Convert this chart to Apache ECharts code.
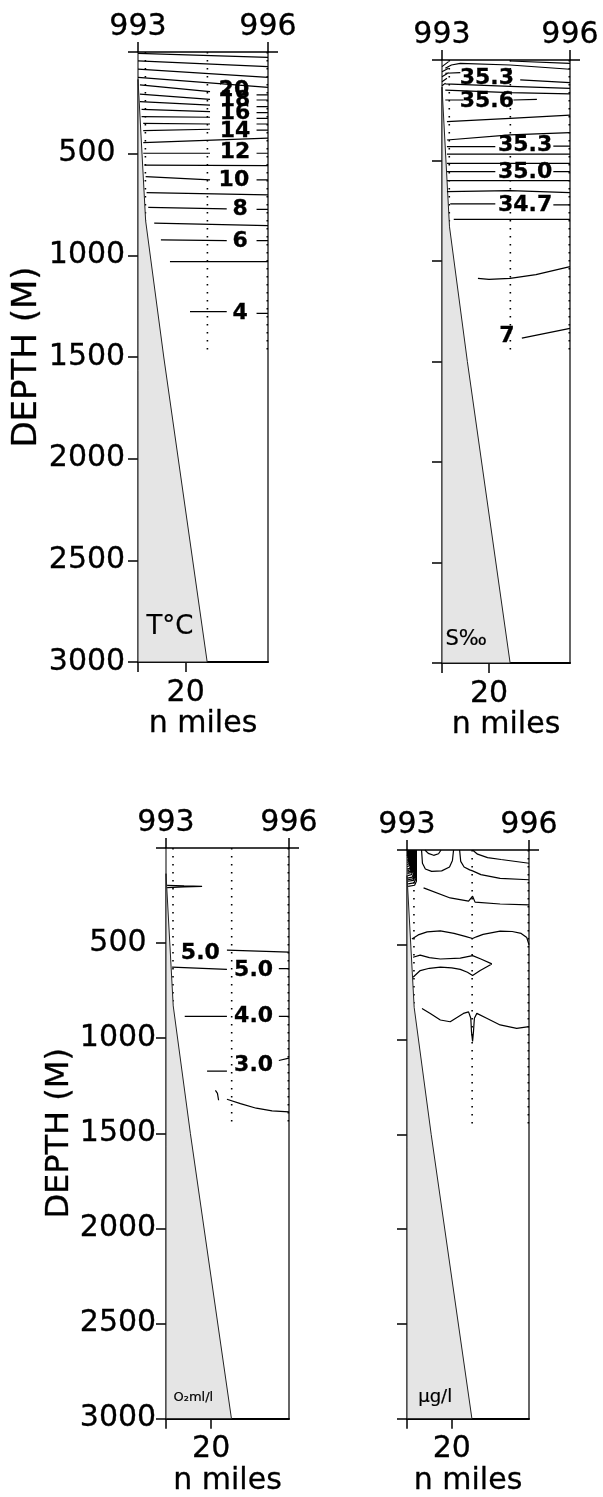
<!DOCTYPE html>
<html><head><meta charset="utf-8">
<script src="https://cdn.jsdelivr.net/npm/echarts/dist/echarts.min.js"></script>
<style>html,body{margin:0;padding:0;background:#fff}#c{width:603px;height:1497px}</style>
</head><body><div id="c"></div>
<script>
// ---------- data ----------
const stationLabels = ['993', '996'];
const distanceLabels = [20];
const panelUnits = ['T°C', 'S‰', 'O₂ml/l', 'μg/l'];
const stationX = [3.1, 29.1, 54.2];          // n miles
const stationBottom = [830, 1470, 1470];      // depth of each cast (m)
const bathymetry = [[0,135],[3.2,830],[10.8,1500],[29,3000],[0,3000]];

// Temperature contours (n miles, depth m) - segments
const tempContours = [
 [[0,7],[54.5,26]],
 [[0,44],[54.5,72]],
 [[0,84],[54.5,125]],
 [[0,125],[54.5,174]],
 [[0.8,162],[30.2,195]], [[49.7,211],[54.5,211]],
 [[0.8,207],[30.2,233]], [[49.7,236],[54.5,236]],
 [[0.8,244],[30.2,261]], [[49.7,269],[54.5,269]],
 [[1.5,282],[30.2,293]], [[49.7,298],[54.5,298]],
 [[1.5,318],[30.2,321]], [[49.7,326],[54.5,326]],
 [[2.2,351],[30.2,354]], [[49.7,354],[54.5,354]],
 [[2.2,387],[30.2,380]], [[49.7,384],[54.5,384]],
 [[2.2,446],[54.5,424]],
 [[2.2,498],[30.2,498]], [[49.7,498],[54.5,498]],
 [[2.7,556],[54.5,559]],
 [[3.2,613],[30.2,629]], [[49.7,629],[54.5,629]],
 [[3.6,692],[54.5,703]],
 [[4.3,764],[37.2,772]], [[49.7,774],[54.5,774]],
 [[6.8,842],[54.5,854]],
 [[9.6,924],[37.2,928]], [[49.7,928],[54.5,928]],
 [[13.4,1031],[54.5,1031]],
 [[21.8,1277],[37.2,1277]], [[49.7,1285],[54.5,1285]]
];
const tempLabels = [[40.2,190,'20'],[40.7,238,'18'],[40.7,301,'16'],[40.7,392,'14'],[40.7,495,'12'],[40.2,630,'10'],[42.8,774,'8'],[42.8,933,'6'],[42.8,1285,'4']];

// Salinity contours
const salContours = [
 [[29,5],[54.5,17]],
 [[1.4,41],[4,25],[7.8,17],[29,25],[54.5,46]],
 [[1.4,66],[7.8,63]], [[33.3,99],[54.5,113]],
 [[1.4,119],[29,131],[54.5,141]],
 [[1.4,150],[29,162],[54.5,169]],
 [[1.4,199],[9.2,199]], [[30.4,199],[40.4,196]],
 [[2.1,307],[29,290],[54.5,274]],
 [[2.1,398],[29,373],[54.5,361]],
 [[2.1,431],[22.7,431]], [[47.4,428],[54.5,428]],
 [[2.1,468],[54.5,468]],
 [[2.1,514],[54.5,514]],
 [[2.1,555],[22.7,555]], [[47.4,555],[54.5,555]],
 [[2.1,600],[54.5,600]],
 [[2.1,655],[29,650],[54.5,660]],
 [[3.5,716],[22.7,716]], [[47.4,721],[54.5,721]],
 [[5.0,793],[54.5,793]],
 [[15.3,1086],[20,1091],[29,1086],[40,1068],[54.5,1028]],
 [[34,1384],[54.5,1335]],
 [[0,33],[2.8,8]], [[0,58],[2.8,41]], [[0,83],[2.8,63]], [[0,108],[2.1,91]], [[0,128],[1.5,115]]
];
const salLabels = [[19.1,93,'35.3'],[19.1,203,'35.6'],[35.4,423,'35.3'],[35.4,557,'35.0'],[35.4,724,'34.7'],[27.6,1376,'7']];

// Oxygen contours
const oxyContours = [
 [[0.5,196],[8,199],[16,202]], [[0.5,208],[8,204],[16,202]],
 [[2.7,626],[27,638]],
 [[27,537],[54.5,547]],
 [[50,634],[54.5,634]],
 [[8.3,885],[27,885]], [[50,885],[54.5,885]],
 [[18.2,1173],[27,1173]], [[50,1117],[54.5,1105]],
 [[21.9,1274],[22.8,1290],[23.3,1326]],
 [[27,1321],[33,1344],[40,1368],[47,1382],[54.5,1387]]
];
const oxyLabels = [[15.2,551,'5.0'],[38.8,641,'5.0'],[38.8,885,'4.0'],[38.8,1143,'3.0']];

// Chlorophyll contours
const chlContours = [
 [[0.2,0],[0.2,25],[0.1,32]],
 [[0.45,0],[0.45,30],[0.2,42],[0.1,44]],
 [[0.7,0],[0.7,38],[0.4,52],[0.1,55]],
 [[0.95,0],[0.95,46],[0.6,62],[0.1,66]],
 [[1.2,0],[1.2,55],[0.8,72],[0.1,78]],
 [[1.45,0],[1.45,65],[1.0,83],[0.1,88]],
 [[1.7,0],[1.7,76],[1.2,96],[0.1,101]],
 [[1.95,0],[1.95,85],[1.4,104],[0.2,109]],
 [[2.2,0],[2.2,93],[1.6,112],[0.2,117]],
 [[2.45,0],[2.45,100],[1.8,119],[0.2,124]],
 [[2.7,0],[2.7,110],[2.0,130],[0.3,135]],
 [[3.0,0],[3.0,122],[2.3,143],[0.3,148]],
 [[3.3,0],[3.3,131],[2.6,152],[0.4,157]],
 [[3.6,0],[3.6,140],[2.9,160],[0.4,165]],
 [[3.9,0],[3.9,152],[3.1,173],[0.5,179]],
 [[4.2,0],[4.2,165],[3.4,186],[0.5,192]],
 [[8.0,0],[9.5,18],[11.9,28],[14.1,20],[15.2,0]],
 [[6.5,0],[6.9,70],[8.2,100],[11,113],[15.5,110],[19,90],[20.3,55],[20.8,0]],
 [[23.5,0],[24,60],[25.5,90],[28,105],[29.3,110],[33,130],[41.6,150],[54.5,157]],
 [[29.3,0],[31.5,22],[36,40],[42,50],[54.5,70]],
 [[7.4,200],[19.3,253],[27.5,270],[29.3,244],[30.4,275],[41.6,285],[54.5,290]],
 [[2.2,470],[5,448],[9,432],[14.9,427],[21,440],[26,456],[29.3,467],[31,458],[34,445],[41.6,428],[47,430],[51,440],[53.5,462],[54.5,500]],
 [[2.7,566],[5.9,555],[10,568],[14.9,575],[23.8,570],[29.3,557],[33,575],[37.9,601]],
 [[2.7,671],[5.9,636],[10,624],[14.9,618],[20,622],[23.8,630],[27,645],[29.3,662],[32.7,636],[37.9,601]],
 [[6.7,836],[10.4,862],[14.9,897],[19.3,906],[25.2,862],[27.5,854],[28.5,888],[28.8,958],[29.3,1010],[29.7,958],[30.1,888],[31.2,862],[35.6,888],[41.6,923],[49,941],[54.5,932]]
];
const chlLabels = [];

const unitPos = [[13.4,2828],[10.3,2884],[12.1,2892],[12.6,2890]];

// ---------- layout ----------
const FONT = "'DejaVu Sans', sans-serif";
const XMAX = 54.5;
const grids = [
  {left:138, top:52, width:130, height:610},
  {left:442, top:60, width:128, height:603},
  {left:166, top:848, width:123, height:574},
  {left:407, top:850, width:122, height:574}
];
const panels = [
  {contours: tempContours, labels: tempLabels, yLabels: true, labelMargin: 51, nameGap: 81, nameSize: 34, unitSize: 26},
  {contours: salContours, labels: salLabels, yLabels: false, unitSize: 21},
  {contours: oxyContours, labels: oxyLabels, yLabels: true, labelMargin: 48, nameGap: 71, nameSize: 32, unitSize: 13},
  {contours: chlContours, labels: chlLabels, yLabels: false, unitSize: 18}
];

function segData(segs) {
  const out = [];
  segs.forEach((s, i) => { if (i) out.push(['-', '-']); s.forEach(p => out.push(p)); });
  return out;
}
const heavy = {textBorderColor: '#000', textBorderWidth: 0.3};

const xAxis = [], yAxis = [], series = [];
panels.forEach((p, i) => {
  xAxis.push({
    gridIndex: i, type: 'value', min: 0, max: XMAX, position: 'bottom',
    axisLine: {show: true, onZero: false, lineStyle: {color: '#000', width: 2}},
    axisTick: {show: true, customValues: [0, 20], length: 10, inside: false, lineStyle: {color: '#000', width: 1.5}},
    axisLabel: Object.assign({show: true, customValues: distanceLabels, fontSize: 30, fontFamily: FONT, color: '#000', margin: 16}, heavy),
    splitLine: {show: false},
    name: 'n miles', nameLocation: 'middle', nameGap: 44,
    nameTextStyle: Object.assign({fontSize: 30, fontFamily: FONT, color: '#000'}, heavy)
  });
  xAxis.push({
    gridIndex: i, type: 'value', min: 0, max: XMAX, position: 'top',
    axisLine: {show: true, onZero: false, lineStyle: {color: '#000', width: 1.5}},
    axisTick: {show: true, customValues: [0, XMAX], length: 10, inside: false, lineStyle: {color: '#000', width: 1.5}},
    axisLabel: Object.assign({show: true, customValues: [0, XMAX], fontSize: 30, fontFamily: FONT, color: '#000', margin: 10,
      formatter: v => (v < 1 ? stationLabels[0] : stationLabels[1])}, heavy),
    splitLine: {show: false}
  });
  const yl = {
    gridIndex: i, type: 'value', min: 0, max: 3000, interval: 500, inverse: true, position: 'left',
    axisLine: {show: true, onZero: false, lineStyle: {color: '#555', width: 1.5}},
    axisTick: {show: true, length: 10, inside: false, lineStyle: {color: '#000', width: 1.5}},
    axisLabel: Object.assign({show: p.yLabels, fontSize: 30, fontFamily: FONT, color: '#000', align: 'center',
      margin: p.labelMargin || 50, formatter: v => (v === 0 ? '' : String(v))}, heavy),
    splitLine: {show: false}
  };
  if (p.yLabels) {
    yl.name = 'DEPTH (M)'; yl.nameLocation = 'middle'; yl.nameGap = p.nameGap;
    yl.nameTextStyle = Object.assign({fontSize: p.nameSize, fontFamily: FONT, color: '#000'}, heavy);
  }
  yAxis.push(yl);
  yAxis.push({
    gridIndex: i, type: 'value', min: 0, max: 3000, inverse: true, position: 'right',
    axisLine: {show: true, onZero: false, lineStyle: {color: '#333', width: 1.5}},
    axisTick: {show: true, customValues: [0], length: 10, inside: false, lineStyle: {color: '#000', width: 1.5}},
    axisLabel: {show: false}, splitLine: {show: false}
  });
  const xi = 2 * i, yi = 2 * i;
  series.push({
    type: 'line', xAxisIndex: xi, yAxisIndex: yi, silent: true, z: 1,
    data: segData(stationX.map((x, k) => [[x, 0], [x, stationBottom[k]]])),
    showSymbol: false, symbol: 'none',
    lineStyle: {color: '#000', width: 1.6, type: [1.6, 6.4], cap: 'butt'}
  });
  series.push({
    type: 'custom', xAxisIndex: xi, yAxisIndex: yi, silent: true, z: 2,
    data: [[0, 0]],
    renderItem: (params, api) => ({
      type: 'polygon',
      shape: {points: bathymetry.map(b => api.coord(b))},
      style: {fill: '#e5e5e5', stroke: '#222', lineWidth: 1}
    })
  });
  series.push({
    type: 'line', xAxisIndex: xi, yAxisIndex: yi, silent: true, z: 3,
    data: segData(p.contours), showSymbol: false, symbol: 'none',
    lineStyle: {color: '#000', width: 1.2}
  });
  series.push({
    type: 'scatter', xAxisIndex: xi, yAxisIndex: yi, silent: true, z: 4,
    data: p.labels, symbolSize: 0, itemStyle: {color: '#000', opacity: 1},
    label: {show: true, position: 'inside', formatter: q => q.value[2],
      fontSize: 22, fontWeight: 'bold', fontFamily: FONT, color: '#000', opacity: 1,
      textBorderColor: '#000', textBorderWidth: 0.3}
  });
  series.push({
    type: 'scatter', xAxisIndex: xi, yAxisIndex: yi, silent: true, z: 4,
    data: [[unitPos[i][0], unitPos[i][1], panelUnits[i]]], symbolSize: 0, itemStyle: {color: '#000', opacity: 1},
    label: {show: true, position: 'inside', formatter: q => q.value[2], opacity: 1,
      fontSize: p.unitSize, fontFamily: FONT, color: '#000', textBorderColor: '#000', textBorderWidth: 0.2}
  });
});

const chart = echarts.init(document.getElementById('c'), null, {renderer: 'canvas'});
chart.setOption({
  animation: false,
  backgroundColor: '#fff',
  grid: grids.map(g => Object.assign({containLabel: false}, g)),
  xAxis, yAxis, series
});
</script></body></html>
